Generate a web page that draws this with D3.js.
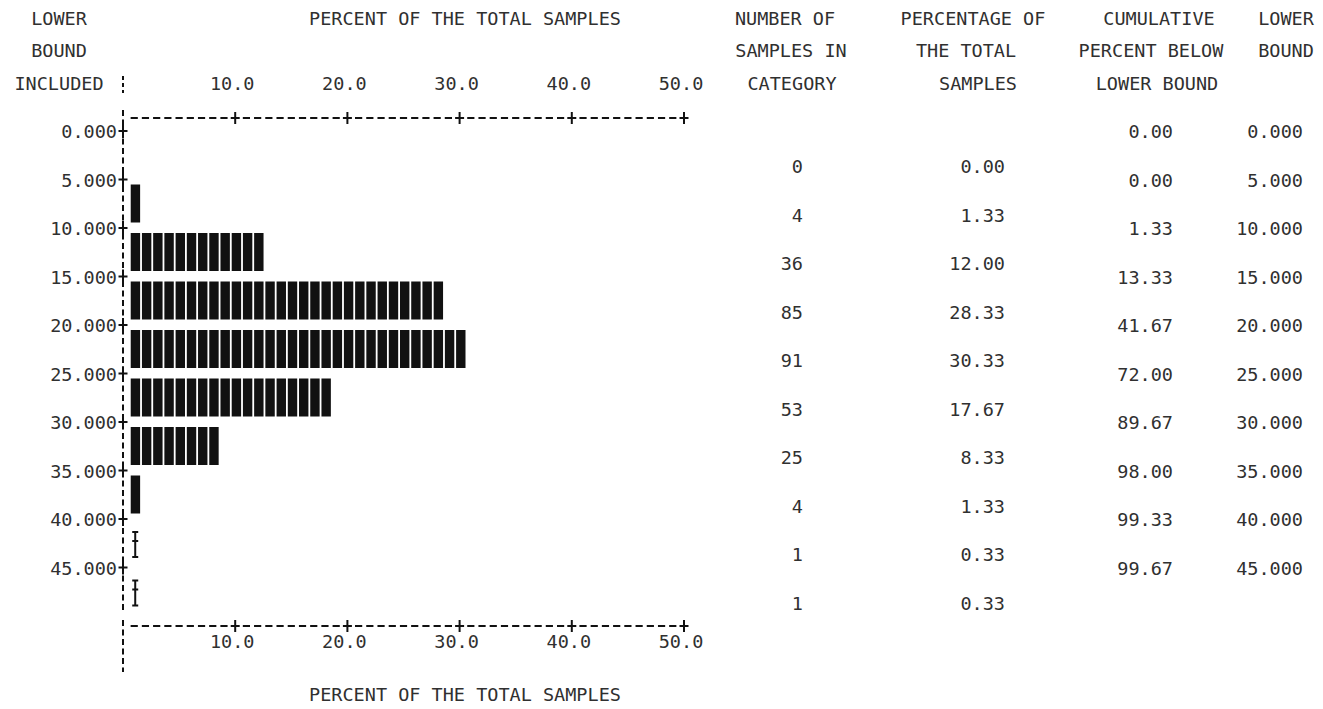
<!DOCTYPE html>
<html>
<head>
<meta charset="utf-8">
<script src="https://cdn.jsdelivr.net/npm/d3@7/dist/d3.min.js"></script>
<style>
  html, body { margin: 0; padding: 0; background: #fff; }
  svg text { font-family: "DejaVu Sans Mono", "Liberation Mono", monospace; font-size: 18.5px; fill: #303030; }
</style>
</head>
<body>
<svg id="chart" width="1323" height="709"></svg>
<script>
// ---- data ----
const lowerBounds = [0, 5, 10, 15, 20, 25, 30, 35, 40, 45];
const counts      = [0, 4, 36, 85, 91, 53, 25, 4, 1, 1];
const percents    = [0.00, 1.33, 12.00, 28.33, 30.33, 17.67, 8.33, 1.33, 0.33, 0.33];
const cumulative  = [0.00, 0.00, 1.33, 13.33, 41.67, 72.00, 89.67, 98.00, 99.33, 99.67];
const xTickValues = [10, 20, 30, 40, 50];
const axisTitle   = "PERCENT OF THE TOTAL SAMPLES";

const svg = d3.select("#chart");

const x = d3.scaleLinear().domain([0, 50]).range([123, 684]);
const y = d3.scaleLinear().domain([0, 50]).range([131, 616]);
const ink = "#111";

// ---- header texts ----
const hdr = [
  {t: "LOWER", x: 59, y: 25},
  {t: "BOUND", x: 59, y: 57},
  {t: "INCLUDED", x: 59, y: 90},
  {t: axisTitle, x: 465, y: 25},
  {t: "NUMBER OF", x: 785, y: 25},
  {t: "SAMPLES IN", x: 791, y: 57},
  {t: "CATEGORY", x: 792, y: 90},
  {t: "PERCENTAGE OF", x: 973, y: 25},
  {t: "THE TOTAL", x: 966, y: 57},
  {t: "SAMPLES", x: 978, y: 90},
  {t: "CUMULATIVE", x: 1159, y: 25},
  {t: "PERCENT BELOW", x: 1151, y: 57},
  {t: "LOWER BOUND", x: 1157, y: 90},
  {t: "LOWER", x: 1286, y: 25},
  {t: "BOUND", x: 1286, y: 57}
];
svg.append("g").selectAll("text").data(hdr).join("text")
  .attr("x", d => d.x).attr("y", d => d.y)
  .attr("text-anchor", "middle").text(d => d.t);

// bottom title
svg.append("text").attr("x", 465).attr("y", 701).attr("text-anchor", "middle").text(axisTitle);

// ---- horizontal (percent) axes drawn as dash characters ----
const units = d3.range(1, 51);
function hAxis(yPos, labelY) {
  const g = svg.append("g");
  g.selectAll("line.dash").data(units.filter(k => k % 10 !== 0)).join("line")
    .attr("x1", k => x(k) - 3.6).attr("x2", k => x(k) + 3.6)
    .attr("y1", yPos).attr("y2", yPos)
    .attr("stroke", ink).attr("stroke-width", 2);
  g.selectAll("line.ph").data(xTickValues).join("line")
    .attr("x1", k => x(k) - 4.5).attr("x2", k => x(k) + 4.5)
    .attr("y1", yPos).attr("y2", yPos)
    .attr("stroke", ink).attr("stroke-width", 2);
  g.selectAll("line.pv").data(xTickValues).join("line")
    .attr("x1", k => x(k)).attr("x2", k => x(k))
    .attr("y1", yPos - 6).attr("y2", yPos + 6)
    .attr("stroke", ink).attr("stroke-width", 2);
  g.selectAll("text").data(xTickValues).join("text")
    .attr("x", k => x(k) - 3).attr("y", labelY)
    .attr("text-anchor", "middle")
    .text(k => d3.format(".1f")(k));
}
hAxis(118, 90);
hAxis(626, 648);

// ---- vertical axis ----
const axX = x(0);
svg.append("line").attr("x1", axX).attr("x2", axX).attr("y1", 110).attr("y2", 612)
  .attr("stroke", ink).attr("stroke-width", 2).attr("stroke-dasharray", "6,3.5");
svg.append("line").attr("x1", axX).attr("x2", axX).attr("y1", 76).attr("y2", 93)
  .attr("stroke", ink).attr("stroke-width", 2).attr("stroke-dasharray", "4,3");
svg.append("line").attr("x1", axX).attr("x2", axX).attr("y1", 620).attr("y2", 672)
  .attr("stroke", ink).attr("stroke-width", 2).attr("stroke-dasharray", "6,3.5");

const ticks = svg.append("g");
ticks.selectAll("line.h").data(lowerBounds).join("line")
  .attr("x1", axX - 4.5).attr("x2", axX + 4.5)
  .attr("y1", d => y(d)).attr("y2", d => y(d))
  .attr("stroke", ink).attr("stroke-width", 2);
ticks.selectAll("line.v").data(lowerBounds).join("line")
  .attr("x1", axX).attr("x2", axX)
  .attr("y1", d => y(d) - 7).attr("y2", d => y(d) + 7)
  .attr("stroke", ink).attr("stroke-width", 2);
ticks.selectAll("text").data(lowerBounds).join("text")
  .attr("x", axX - 6).attr("y", d => y(d) + 7)
  .attr("text-anchor", "end")
  .text(d => d3.format(".3f")(d));

// ---- bars made of character blocks ----
const cats = lowerBounds.map((lb, i) => ({lb, n: counts[i], p: percents[i], blocks: Math.round(percents[i])}));
const barG = svg.append("g");
cats.forEach(c => {
  const y0 = y(c.lb) + 5, y1 = y(c.lb) + 43;
  if (c.blocks > 0) {
    barG.append("g").selectAll("rect").data(d3.range(1, c.blocks + 1)).join("rect")
      .attr("x", k => x(k) - 3.5).attr("width", 9.4)
      .attr("y", y0).attr("height", y1 - y0)
      .attr("fill", ink);
  } else if (c.p > 0) {
    const cx = x(1) + 1;
    const t0 = y(c.lb) + 13, t1 = y(c.lb) + 38;
    const g = barG.append("g").attr("stroke", ink).attr("stroke-width", 2);
    g.append("line").attr("x1", cx).attr("x2", cx).attr("y1", t0).attr("y2", t1);
    g.append("line").attr("x1", cx - 3).attr("x2", cx + 3).attr("y1", t0).attr("y2", t0);
    g.append("line").attr("x1", cx - 3).attr("x2", cx + 3).attr("y1", t1).attr("y2", t1);
    g.append("line").attr("x1", cx - 3).attr("x2", cx + 3).attr("y1", t0 + 9).attr("y2", t0 + 9);
  }
});

// ---- right table ----
const tbl = svg.append("g");
tbl.selectAll("text.n").data(cats).join("text")
  .attr("x", 803).attr("y", c => y(c.lb) + 42).attr("text-anchor", "end")
  .text(c => c.n);
tbl.selectAll("text.p").data(cats).join("text")
  .attr("x", 1005).attr("y", c => y(c.lb) + 42).attr("text-anchor", "end")
  .text(c => d3.format(".2f")(c.p));
tbl.selectAll("text.c").data(lowerBounds).join("text")
  .attr("x", 1173).attr("y", d => y(d) + 7).attr("text-anchor", "end")
  .text((d, i) => d3.format(".2f")(cumulative[i]));
tbl.selectAll("text.l").data(lowerBounds).join("text")
  .attr("x", 1303).attr("y", d => y(d) + 7).attr("text-anchor", "end")
  .text(d => d3.format(".3f")(d));
</script>
</body>
</html>
